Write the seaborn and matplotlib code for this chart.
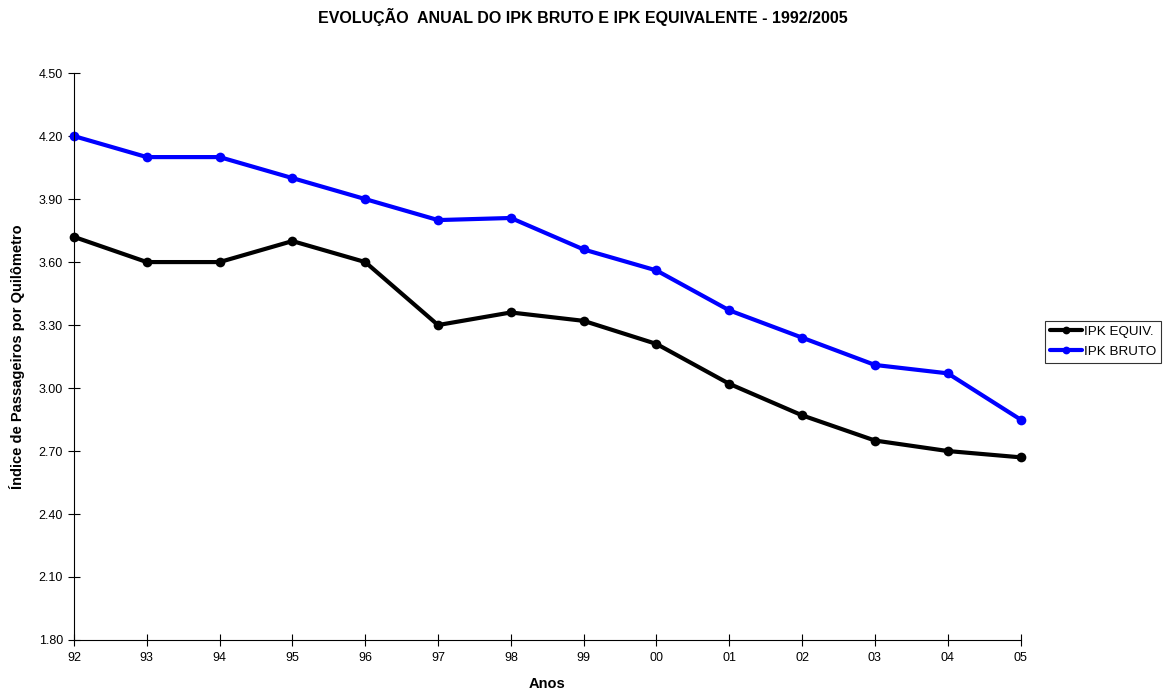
import matplotlib
matplotlib.use("Agg")
import matplotlib.pyplot as plt
import seaborn as sns
import pandas as pd
import numpy as np

years = ["92", "93", "94", "95", "96", "97", "98", "99", "00", "01", "02", "03", "04", "05"]
ipk_equiv = [3.72, 3.60, 3.60, 3.70, 3.60, 3.30, 3.36, 3.32, 3.21, 3.02, 2.87, 2.75, 2.70, 2.67]
ipk_bruto = [4.20, 4.10, 4.10, 4.00, 3.90, 3.80, 3.81, 3.66, 3.56, 3.37, 3.24, 3.11, 3.07, 2.85]
y_ticks = [1.80, 2.10, 2.40, 2.70, 3.00, 3.30, 3.60, 3.90, 4.20, 4.50]

sns.set_style("white")
plt.rcParams['font.family'] = ['Liberation Sans', 'DejaVu Sans']
plt.rcParams['text.color'] = 'black'
plt.rcParams['axes.labelcolor'] = 'black'
plt.rcParams['xtick.color'] = 'black'
plt.rcParams['ytick.color'] = 'black'

pos = np.arange(len(years))
df = pd.DataFrame({
    "pos": np.concatenate([pos, pos]),
    "valor": ipk_equiv + ipk_bruto,
    "serie": ["IPK EQUIV."] * len(years) + ["IPK BRUTO"] * len(years),
})

fig = plt.figure(figsize=(11.65, 6.93), dpi=100)
ax = fig.add_axes([0.0635, 0.0765, 0.8125, 0.818])

sns.lineplot(data=df, x="pos", y="valor", hue="serie",
             palette={"IPK EQUIV.": "#000000", "IPK BRUTO": "#0000FF"},
             marker="o", markersize=7, markeredgewidth=0, linewidth=3,
             ax=ax, legend=True, clip_on=False)

ax.set_xlim(0, len(years) - 1)
ax.set_ylim(1.80, 4.50)
ax.set_xticks(pos)
ax.set_xticklabels(years, fontsize=9)
ax.set_yticks(y_ticks)
ax.set_yticklabels([f"{v:.2f}" for v in y_ticks], fontsize=9)
ax.tick_params(axis="both", direction="inout", length=8, width=0.8, color="black",
               bottom=True, left=True, labelcolor="black")
ax.tick_params(axis="x", pad=5)
ax.tick_params(axis="y", pad=4)

for s in ["top", "right"]:
    ax.spines[s].set_visible(False)
for s in ["left", "bottom"]:
    ax.spines[s].set_color("black")
    ax.spines[s].set_linewidth(0.8)

ax.set_xlabel("Anos", fontsize=10.5, fontweight="bold", labelpad=9)
ax.set_ylabel("Índice de Passageiros por Quilômetro", fontsize=10.5, fontweight="bold", labelpad=10)
fig.suptitle("EVOLUÇÃO  ANUAL DO IPK BRUTO E IPK EQUIVALENTE - 1992/2005",
             fontsize=11.5, fontweight="bold", y=0.988)

leg = ax.legend(loc="center left", bbox_to_anchor=(1.026, 0.526), borderaxespad=0,
                frameon=True, fancybox=False, edgecolor="black", fontsize=9.6,
                handlelength=2.4, borderpad=0.35, labelspacing=0.6, handletextpad=0.2,
                markerscale=0.8)
leg.get_frame().set_linewidth(0.8)

fig.savefig("out.png", dpi=100)
